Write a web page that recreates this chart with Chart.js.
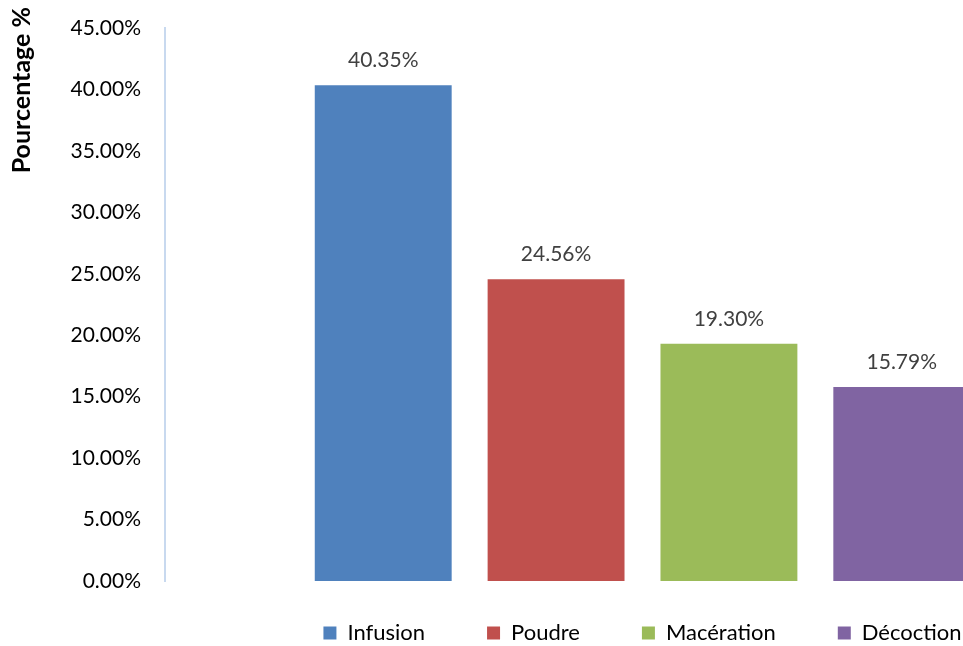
<!DOCTYPE html>
<html>
<head>
<meta charset="utf-8">
<script src="https://cdn.jsdelivr.net/npm/chart.js@4/dist/chart.umd.min.js"></script>
<style>
  html, body { margin: 0; padding: 0; background: #fff; overflow: hidden; }
  #wrap { width: 963px; height: 646px; position: relative; overflow: hidden; }
</style>
</head>
<body>
<div id="wrap"><canvas id="graphique" width="1120" height="646"></canvas></div>
<script>
// donnees
const modes = ['Infusion', 'Poudre', 'Macération', 'Décoction'];
const pourcentages = [40.35, 24.56, 19.30, 15.79];
const couleurs = ['#4F81BD', '#C0504D', '#9BBB59', '#8064A2'];
const graduations = [0, 5, 10, 15, 20, 25, 30, 35, 40, 45];

const police = 'Lato, "Open Sans", sans-serif';

// etiquettes au dessus des barres
const etiquettes = {
  id: 'etiquettes',
  afterDatasetsDraw(chart) {
    const ctx = chart.ctx;
    ctx.save();
    ctx.font = '21px ' + police;
    ctx.fillStyle = '#404040';
    ctx.textAlign = 'center';
    ctx.textBaseline = 'middle';
    chart.data.datasets.forEach((ds, i) => {
      const barre = chart.getDatasetMeta(i).data[0];
      ctx.fillText(ds.data[0].toFixed(2) + '%', barre.x, barre.y - 25);
    });
    ctx.restore();
  }
};

// titre de l'axe y, place en haut comme dans l'original
const titreAxe = {
  id: 'titreAxe',
  afterDraw(chart) {
    const ctx = chart.ctx;
    ctx.save();
    ctx.translate(22, 7);
    ctx.rotate(-Math.PI / 2);
    ctx.font = 'bold 25px ' + police;
    ctx.fillStyle = '#000';
    ctx.textAlign = 'right';
    ctx.textBaseline = 'middle';
    ctx.fillText('Pourcentage %', 0, 0);
    ctx.restore();
  }
};

// hauteur fixe de la legende, puis on la remonte un peu
const legendeBas = {
  id: 'legendeBas',
  beforeLayout(chart) {
    const lg = chart.legend;
    if (lg && !lg._fixe) {
      const fit = lg.fit;
      lg.fit = function () { fit.call(this); this.height = 65; };
      lg._fixe = true;
    }
  },
  afterLayout(chart) {
    chart.legend.top -= 21;
  }
};

new Chart(document.getElementById('graphique'), {
  type: 'bar',
  data: {
    labels: [''],
    datasets: modes.map((m, i) => ({
      label: m,
      data: [pourcentages[i]],
      backgroundColor: couleurs[i],
      categoryPercentage: 0.724,
      barPercentage: 0.792
    }))
  },
  options: {
    responsive: false,
    animation: false,
    layout: { padding: 0 },
    plugins: {
      legend: {
        position: 'bottom',
        fullSize: false,
        labels: {
          boxWidth: 13,
          boxHeight: 13,
          padding: 62,
          color: '#000',
          font: { family: police, size: 22 }
        }
      },
      tooltip: { enabled: false }
    },
    scales: {
      x: { display: false },
      y: {
        min: 0,
        max: 45,
        afterBuildTicks(s) { s.ticks = graduations.map(v => ({ value: v })); },
        afterFit(s) {
          s.width = 165;
          s.paddingTop = 28;
          s.paddingBottom = 0;
        },
        grid: { display: false, drawTicks: false },
        border: { display: true, color: '#C8D9EF', width: 2 },
        ticks: {
          padding: 24,
          color: '#000',
          font: { family: police, size: 21 },
          callback: v => v.toFixed(2) + '%'
        }
      }
    }
  },
  plugins: [etiquettes, titreAxe, legendeBas]
});
</script>
</body>
</html>
